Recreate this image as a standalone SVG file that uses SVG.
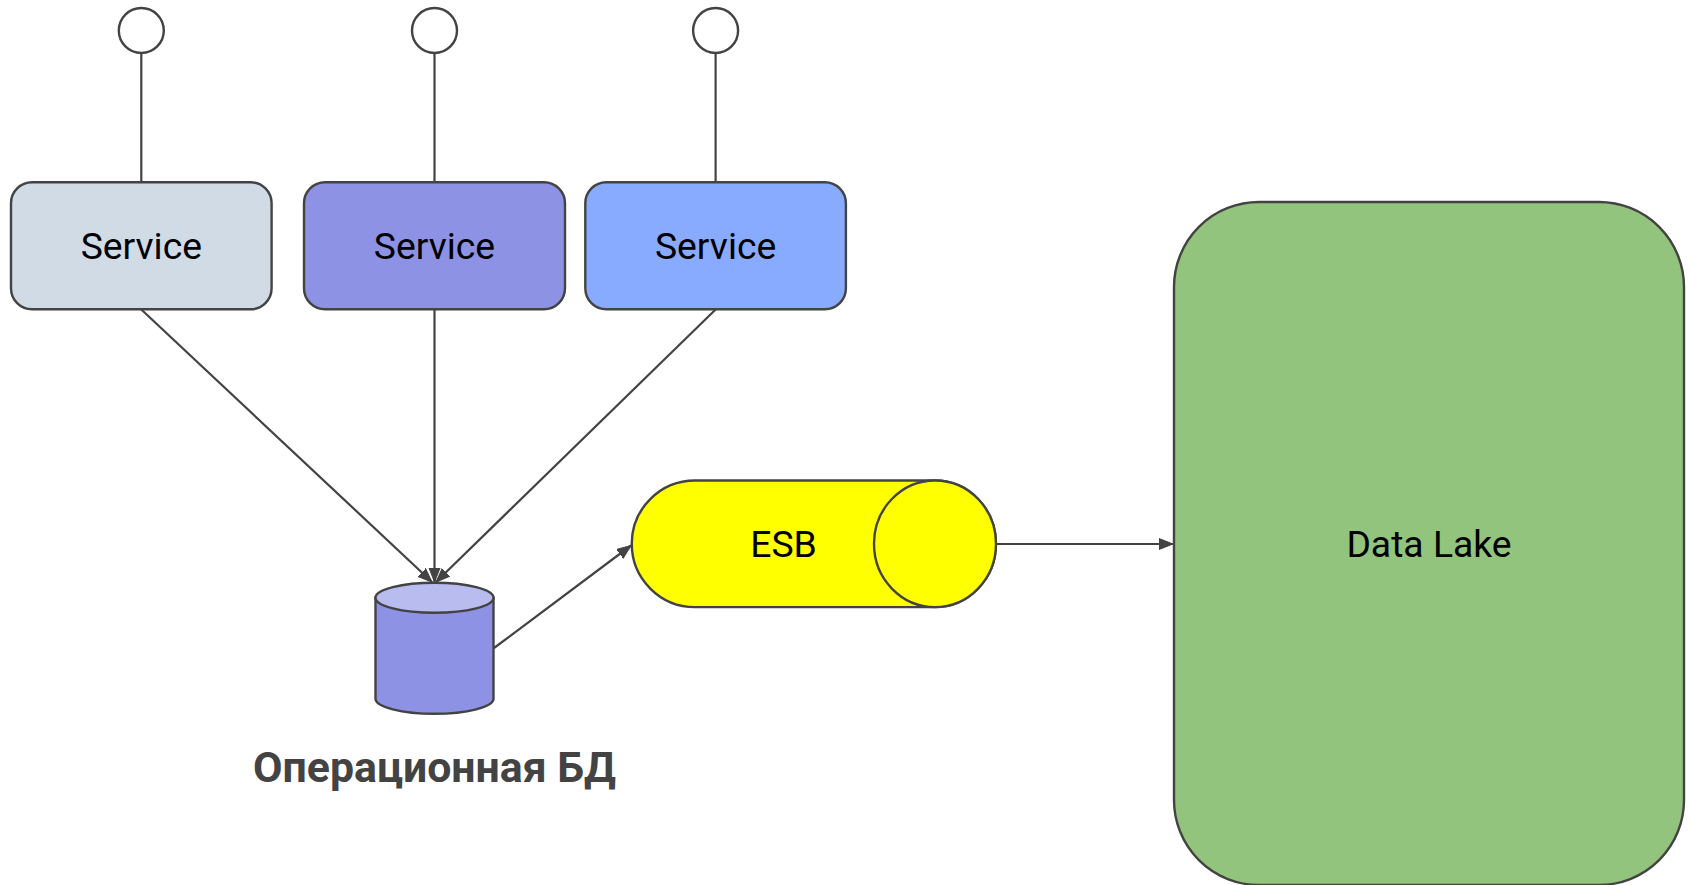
<svg xmlns="http://www.w3.org/2000/svg" width="1691" height="885" viewBox="0 0 1691 885">
<style>
.s{stroke:#434343;stroke-width:2.400}
.c{stroke:#434343;stroke-width:2.200;fill:none}
.a{marker-end:url(#arrow)}
text{font-family:Roboto,"Liberation Sans",sans-serif;text-anchor:middle}
.t{font-size:37.300px;fill:#000}
</style>
<defs><marker id="arrow" markerUnits="userSpaceOnUse" markerWidth="16" markerHeight="14" refX="14" refY="6" orient="auto"><path d="M0 0.500L14 6L0 11.500Z" fill="#434343" stroke="#434343" stroke-width="1"/></marker></defs>
<rect width="1691" height="885" fill="#fff"/>
<g id="connectors">
<path class="c" d="M141.300 54V182"/>
<path class="c" d="M434.500 54V182"/>
<path class="c" d="M715.600 54V182"/>
<path class="c a" d="M141.300 309.500L432 582"/>
<path class="c a" d="M434.500 309.500V582"/>
<path class="c a" d="M715.600 309.500L436 582"/>
<path class="c a" d="M494 648L631 545.500"/>
<path class="c a" d="M996 544H1173"/>
</g>
<g id="actor1"><circle class="s" cx="141.300" cy="30.500" r="22.500" fill="#fff"/></g>
<g id="actor2"><circle class="s" cx="434.500" cy="30.500" r="22.500" fill="#fff"/></g>
<g id="actor3"><circle class="s" cx="715.600" cy="30.500" r="22.500" fill="#fff"/></g>
<g id="service1"><rect class="s" x="11" y="182.300" width="260.600" height="127" rx="21" fill="#d0dbe6"/><text class="t" x="141.300" y="258.500">Service</text></g>
<g id="service2"><rect class="s" x="304" y="182.300" width="261" height="127" rx="21" fill="#8d92e4"/><text class="t" x="434.500" y="258.500">Service</text></g>
<g id="service3"><rect class="s" x="585.300" y="182.300" width="260.600" height="127" rx="21" fill="#88abff"/><text class="t" x="715.600" y="258.500">Service</text></g>
<g id="database">
<path class="s" d="M375.500 597.800V698.800C375.500 706.800 402 713.800 434.500 713.800S493.500 706.800 493.500 698.800V597.800Z" fill="#8d92e4"/>
<ellipse class="s" cx="434.500" cy="597.800" rx="59" ry="15" fill="#b8bcef"/>
<text x="434.500" y="781.500" font-size="42.800" font-weight="700" fill="#434343">Операционная БД</text>
</g>
<g id="esb">
<path class="s" d="M695 480.500H935A61 63.300 0 0 1 935 607.100H695A63.300 63.300 0 0 1 695 480.500Z" fill="#ff0"/>
<ellipse class="s" cx="935" cy="543.800" rx="61" ry="63.300" fill="#ff0"/>
<text class="t" x="783.500" y="557">ESB</text>
</g>
<g id="datalake"><rect class="s" x="1174" y="202" width="510" height="683" rx="85" fill="#93c47d"/><text class="t" x="1429" y="557">Data Lake</text></g>
</svg>
